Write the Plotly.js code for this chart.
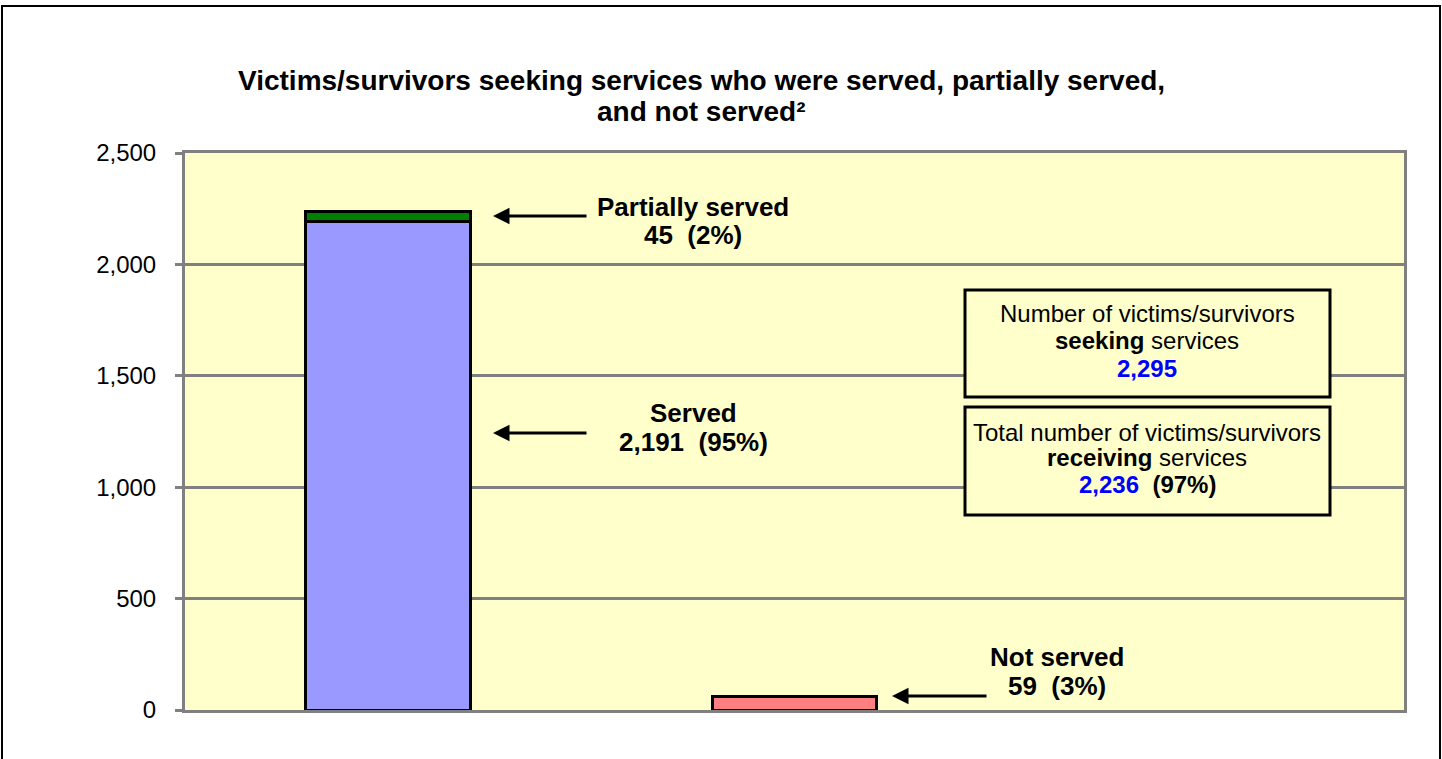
<!DOCTYPE html>
<html>
<head>
<meta charset="utf-8">
<script src="https://cdn.plot.ly/plotly-3.0.1.min.js"></script>
<style>
html,body{margin:0;padding:0;background:#fff;}
#chart{width:1442px;height:759px;}
</style>
</head>
<body>
<div id="chart"></div>
<script>
// ---- data ----
const categories = ["Served / partially served", "Not served", "Totals"];
const servedValues = [2191, null, null];
const partiallyServedValues = [45, null, null];
const notServedValues = [null, 59, null];
const seekingTotal = 2295;
const receivingTotal = 2236;
const yTickValues = [0, 500, 1000, 1500, 2000, 2500];
const yTickLabels = ["0", "500", "1,000", "1,500", "2,000", "2,500"];

const fmt = v => v.toLocaleString("en-US");
const pct = v => Math.round(100 * v / seekingTotal) + "%";

const FONT = "Arial, 'Liberation Sans', sans-serif";
const BG = "#FFFFCC";

// pixel geometry of plot area
const W = 1442, H = 759;
const L = 185, R = 1404, T = 153, B = 710;
const px = x => (x - L) / (R - L);
const py = y => (B - y) / (B - T);

const traces = [
  {type: "bar", name: "Served", x: categories, y: servedValues, width: 0.406,
   marker: {color: "#9999FF", line: {color: "#000", width: 3}}, hoverinfo: "skip"},
  {type: "bar", name: "Partially served", x: categories, y: partiallyServedValues, width: 0.406,
   marker: {color: "#008000", line: {color: "#000", width: 3}}, hoverinfo: "skip"},
  {type: "bar", name: "Not served", x: categories, y: notServedValues, width: 0.406,
   marker: {color: "#FF8080", line: {color: "#000", width: 3}}, hoverinfo: "skip"}
];

const annFont = {family: FONT, size: 26, color: "#000"};
const boxFont = {family: FONT, size: 24, color: "#000"};

function txt(text, x, y, font) {
  return {xref: "paper", yref: "paper", x: px(x), y: py(y), text: text, showarrow: false,
          xanchor: "center", yanchor: "middle", font: font || annFont};
}
function arrow(xHead, xTail, y) {
  return {xref: "paper", yref: "paper", x: px(xHead), y: py(y), ax: xTail - xHead, ay: 0,
          axref: "pixel", ayref: "pixel", text: "", showarrow: true,
          arrowhead: 2, arrowsize: 1.1, arrowwidth: 3, arrowcolor: "#000"};
}

const annotations = [
  txt("<b>Partially served</b>", 693, 207),
  txt("<b>" + fmt(partiallyServedValues[0]) + "  (" + pct(partiallyServedValues[0]) + ")</b>", 693, 235),
  arrow(493, 588, 216),
  txt("<b>Served</b>", 693, 413),
  txt("<b>" + fmt(servedValues[0]) + "  (" + pct(servedValues[0]) + ")</b>", 693, 442),
  arrow(493, 588, 433),
  txt("<b>Not served</b>", 1057, 657),
  txt("<b>" + fmt(notServedValues[1]) + "  (" + pct(notServedValues[1]) + ")</b>", 1057, 686),
  arrow(892, 988, 696),
  txt("Number of victims/survivors", 1147, 313, boxFont),
  txt("<b>seeking</b> services", 1147, 340, boxFont),
  txt("<b><span style='color:#0000FF'>" + fmt(seekingTotal) + "</span></b>", 1147, 368, boxFont),
  txt("Total number of victims/survivors", 1147, 432, boxFont),
  txt("<b>receiving</b> services", 1147, 458, boxFont),
  txt("<b><span style='color:#0000FF'>" + fmt(receivingTotal) + "</span>  (" + pct(receivingTotal) + ")</b>", 1147, 484, boxFont),
  // title
  {xref: "paper", yref: "paper", x: px(701), y: py(80), showarrow: false, xanchor: "center", yanchor: "middle",
   text: "<b>Victims/survivors seeking services who were served, partially served,</b>",
   font: {family: FONT, size: 28, color: "#000"}},
  {xref: "paper", yref: "paper", x: px(701), y: py(112), showarrow: false, xanchor: "center", yanchor: "middle",
   text: "<b>and not served²</b>",
   font: {family: FONT, size: 28, color: "#000"}}
];

const shapes = [
  {type: "rect", xref: "paper", yref: "paper", x0: px(965), x1: px(1330), y0: py(290), y1: py(397),
   line: {color: "#000", width: 3}, fillcolor: BG, layer: "above"},
  {type: "rect", xref: "paper", yref: "paper", x0: px(965), x1: px(1330), y0: py(407), y1: py(515),
   line: {color: "#000", width: 3}, fillcolor: BG, layer: "above"},
  // outer chart frame
  {type: "rect", xref: "paper", yref: "paper", x0: px(2), x1: px(1440), y0: py(770), y1: py(6),
   line: {color: "#000", width: 2}, fillcolor: "rgba(0,0,0,0)", layer: "below"}
];

const layout = {
  width: W, height: H,
  margin: {l: L, r: W - R, t: T, b: H - B, pad: 0},
  paper_bgcolor: "#FFFFFF",
  plot_bgcolor: BG,
  barmode: "stack",
  showlegend: false,
  font: {family: FONT, size: 24, color: "#000"},
  xaxis: {type: "category", range: [-0.5, 2.5], showticklabels: false, ticks: "",
          showgrid: false, zeroline: false, showline: true, linecolor: "#808080", linewidth: 3, mirror: true,
          fixedrange: true},
  yaxis: {range: [0, 2500], tickvals: yTickValues, ticktext: yTickLabels,
          showgrid: true, gridcolor: "#808080", gridwidth: 3, zeroline: false,
          showline: true, linecolor: "#808080", linewidth: 3, mirror: true,
          ticks: "outside", ticklen: 7, tickwidth: 3, tickcolor: "#808080",
          tickfont: {family: FONT, size: 24, color: "#000"}, ticklabelstandoff: 14, fixedrange: true},
  annotations: annotations,
  shapes: shapes
};

Plotly.newPlot("chart", traces, layout, {displayModeBar: false, staticPlot: true});
</script>
</body>
</html>
